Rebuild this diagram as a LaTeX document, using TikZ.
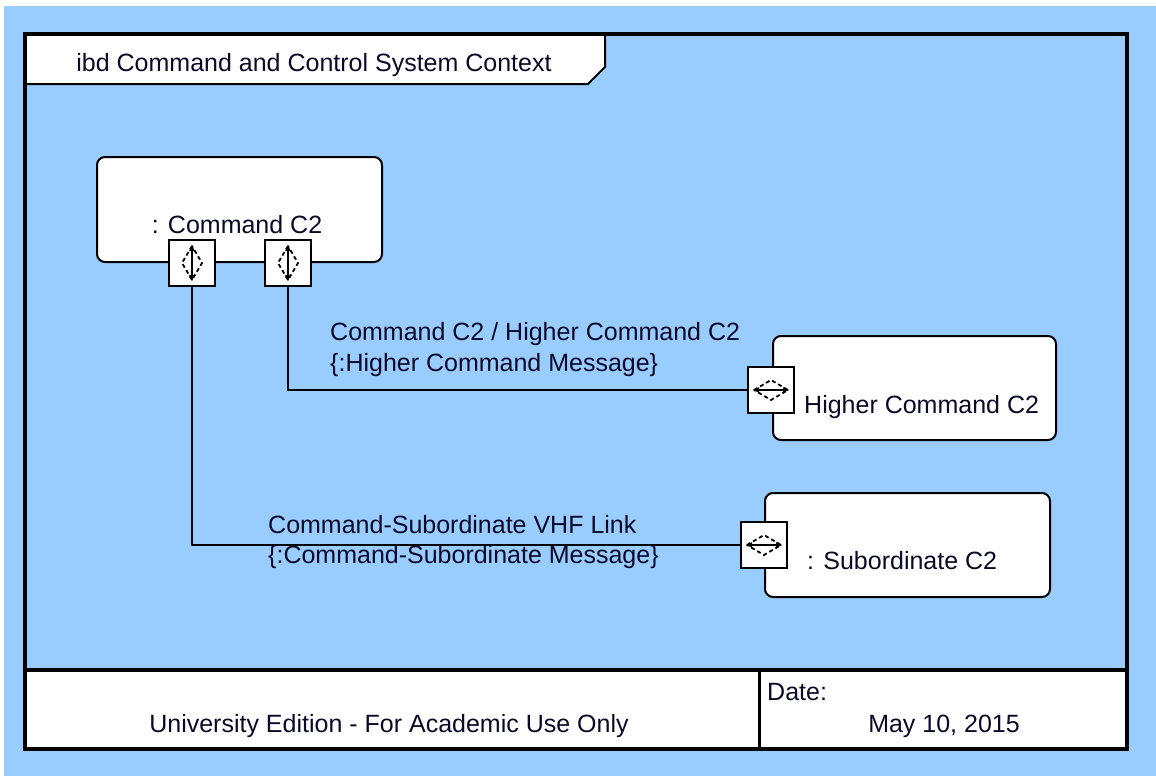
\documentclass[tikz,border=0pt]{standalone}
\usepackage{fontspec}
\setmainfont{Liberation Sans}
\usetikzlibrary{arrows.meta}
\definecolor{bgblue}{RGB}{153,204,255}
\definecolor{txt}{RGB}{10,10,40}
\tikzset{
  lbl/.style={font=\fontsize{25}{30}\selectfont, text=txt, inner sep=0pt, anchor=base west},
  block/.style={draw=black, line width=2pt, fill=white, rounded corners=8pt, inner sep=0pt},
  portbox/.style={draw=black, line width=2pt, fill=white, minimum width=46pt, minimum height=46pt, inner sep=0pt},
  conn/.style={draw=black, line width=1.8pt},
  psym/.style={line width=1.8pt},
  pdash/.style={line width=1.8pt, dash pattern=on 4pt off 3pt},
  vsym/.pic={
    \draw[psym, {Latex[length=7pt,width=6pt]}-{Latex[length=7pt,width=6pt]}] (0,-19) -- (0,19);
    \draw[pdash] (0,-17) -- (-10,0) -- (0,17) -- (10,0) -- cycle;
  },
  hsym/.pic={
    \draw[psym, {Latex[length=7pt,width=6pt]}-{Latex[length=7pt,width=6pt]}] (-19,0) -- (19,0);
    \draw[pdash] (-17,0) -- (0,-10) -- (17,0) -- (0,10) -- cycle;
  }
}
\begin{document}
\begin{tikzpicture}[x=1pt,y=-1pt]
\useasboundingbox (0,0) rectangle (1156,776);
\fill[white] (0,0) rectangle (1156,776);
\fill[bgblue] (4,6) rectangle (1156,776);
% footer
\fill[white] (25,670) rectangle (1127,749);
% tab
\fill[white] (25,34) -- (605,34) -- (605,67) -- (588,84) -- (25,84) -- cycle;
\draw[line width=2pt] (605,34) -- (605,67) -- (588,84) -- (25,84);
% frame
\draw[line width=4pt] (25,34) rectangle (1127,749);
\draw[line width=4pt] (25,670) -- (1127,670);
\draw[line width=3pt] (759,670) -- (759,749);
\node[lbl, anchor=base] (title) at (314,71) {ibd Command and Control System Context};
\node[lbl, anchor=base] (edition) at (389,732) {University Edition - For Academic Use Only};
\node[lbl] (datelbl) at (767,700) {Date:};
\node[lbl, anchor=base] (date) at (944,732) {May 10, 2015};
% blocks
\node[block, minimum width=285pt, minimum height=105pt] (cmd) at (239.5,209.5) {};
\node[block, minimum width=283pt, minimum height=104pt] (higher) at (914.5,388) {};
\node[block, minimum width=285pt, minimum height=104pt] (sub) at (907.5,545) {};
\node[lbl, anchor=base] (cmdtxt) at (237,233) {: Command C2};
\node[lbl] (highertxt) at (804,413) {Higher Command C2};
\node[lbl] (subtxt) at (807,569) {: Subordinate C2};
% connectors
\node[portbox] (p1) at (192,263) {};
\node[portbox] (p2) at (288,263) {};
\node[portbox] (p3) at (771,390) {};
\node[portbox] (p4) at (764,545) {};
\draw[conn] (p2.south) |- (p3.west);
\draw[conn] (p1.south) |- (p4.west);
\pic at (p1) {vsym};
\pic at (p2) {vsym};
\pic at (p3) {hsym};
\pic at (p4) {hsym};
% connector labels
\node[lbl] (c1a) at (330,340) {Command C2 / Higher Command C2};
\node[lbl] (c1b) at (330,371) {\{:Higher Command Message\}};
\node[lbl] (c2a) at (268,533) {Command-Subordinate VHF Link};
\node[lbl] (c2b) at (268,563) {\{:Command-Subordinate Message\}};
\end{tikzpicture}
\end{document}
